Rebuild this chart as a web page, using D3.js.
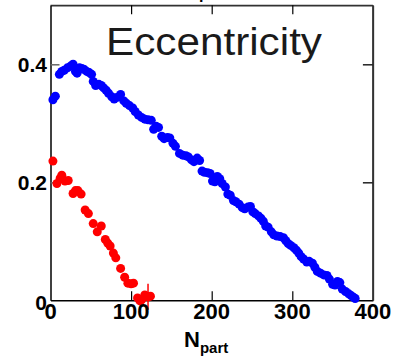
<!DOCTYPE html>
<html><head><meta charset="utf-8">
<script src="https://cdn.jsdelivr.net/npm/d3@7/dist/d3.min.js"></script>
<style>html,body{margin:0;padding:0;background:#fff;}svg{display:block;}</style>
</head><body>
<script>
const blueN = [3,6,11,14,17,21,25,28,31,33,36,39,42,45,48,51,53,56,60,63,66,69,72,76,79,83,87,91,94,98,102,105,109,113,117,121,125,128,131,134,138,141,145,148,152,155,160,164,168,171,175,178,182,185,188,191,195,198,201,204,207,210,213,217,220,223,227,230,234,238,241,245,248,251,254,258,261,264,267,270,274,277,281,285,289,292,295,298,302,305,308,311,314,318,321,325,328,331,335,339,343,346,350,353,356,359,362,366,370,373,376,378];
const blueE = [0.340,0.346,0.383,0.388,0.390,0.394,0.397,0.400,0.388,0.385,0.394,0.393,0.391,0.388,0.386,0.383,0.371,0.364,0.366,0.364,0.360,0.356,0.351,0.345,0.341,0.344,0.349,0.338,0.334,0.330,0.326,0.320,0.314,0.310,0.307,0.306,0.305,0.290,0.295,0.293,0.278,0.274,0.276,0.275,0.266,0.261,0.249,0.246,0.245,0.243,0.238,0.235,0.241,0.237,0.219,0.217,0.216,0.215,0.202,0.201,0.210,0.206,0.198,0.192,0.180,0.178,0.169,0.167,0.163,0.157,0.155,0.158,0.159,0.150,0.147,0.143,0.139,0.134,0.126,0.124,0.116,0.111,0.109,0.108,0.106,0.101,0.096,0.093,0.089,0.085,0.080,0.074,0.070,0.065,0.066,0.063,0.056,0.049,0.046,0.043,0.042,0.036,0.027,0.026,0.032,0.030,0.019,0.015,0.011,0.008,0.005,0.003];
const redN = [3,8,12,14,18,22,28,31,34,38,43,47,53,58,63,68,71,74,78,81,87,92,96,100,103,108,111,113,117,121,124];
const redE = [0.236,0.198,0.207,0.212,0.202,0.203,0.181,0.186,0.186,0.180,0.153,0.147,0.130,0.116,0.126,0.103,0.097,0.092,0.080,0.072,0.054,0.039,0.029,0.028,0.029,0.004,-0.001,0.001,0.009,0.006,0.007];
const redErr = [0,0,0,0,0,0,0,0,0,0,0,0,0,0,0,0,0,0,0,0,0,0,0,0,0,0,0,0,0,0.022,0];
const xTicks = [0,100,200,300,400];
const yTicks = [0,0.2,0.4];
const yTickLabels = ["0","0.2","0.4"];
const titleText = "Eccentricity";

const W = 395, H = 357;
const svg = d3.select("body").append("svg").attr("width", W).attr("height", H);
const x = d3.scaleLinear().domain([0,400]).range([50.5,372.9]);
const y = d3.scaleLinear().domain([0,0.5]).range([300.3,5.3]);

// cut-off top text fragment
svg.append("text").attr("x",199).attr("y",-1).attr("font-family","Liberation Sans, Arial, sans-serif")
  .attr("font-weight","bold").attr("font-size",16).attr("fill","#000").text("p");

// frame top/right
svg.append("line").attr("x1",x(0)).attr("x2",x(400)).attr("y1",y(0.5)).attr("y2",y(0.5)).attr("stroke","#333").attr("stroke-width",1.3);
svg.append("line").attr("x1",x(400)).attr("x2",x(400)).attr("y1",y(0.5)).attr("y2",y(0)).attr("stroke","#333").attr("stroke-width",1.5);

// axes via d3 with inward ticks
const gB = svg.append("g").attr("transform",`translate(0,${y(0)})`)
  .call(d3.axisBottom(x).tickValues([100,200,300]).tickSize(-9).tickFormat("").tickSizeOuter(0));
const gT = svg.append("g").attr("transform",`translate(0,${y(0.5)})`)
  .call(d3.axisTop(x).tickValues([100,200,300]).tickSize(-9).tickFormat("").tickSizeOuter(0));
const gL = svg.append("g").attr("transform",`translate(${x(0)},0)`)
  .call(d3.axisLeft(y).tickValues([0.2,0.4]).tickSize(-9).tickFormat("").tickSizeOuter(0));
const gR = svg.append("g").attr("transform",`translate(${x(400)},0)`)
  .call(d3.axisRight(y).tickValues([0.2,0.4]).tickSize(-10).tickFormat("").tickSizeOuter(0));
gB.select(".domain").attr("stroke","#000").attr("stroke-width",1.5);
gL.select(".domain").attr("stroke","#000").attr("stroke-width",1.5);
gT.select(".domain").attr("stroke","#333").attr("stroke-width",1.3);
gR.select(".domain").attr("stroke","#333").attr("stroke-width",1.5);
gB.selectAll(".tick line").attr("stroke","#000").attr("stroke-width",1.2);
gT.selectAll(".tick line").attr("stroke","#000").attr("stroke-width",1.2);
gL.selectAll(".tick line").attr("stroke","#666").attr("stroke-width",1.5);
gR.selectAll(".tick line").attr("stroke","#222").attr("stroke-width",1.5);

// title
svg.append("text").attr("x",106).attr("y",55).attr("font-family","Liberation Sans, Arial, sans-serif")
  .attr("font-size",39).attr("fill","#1a1a1a").attr("textLength",216).attr("lengthAdjust","spacingAndGlyphs").text(titleText);

// data
const blue = blueN.map((n,i)=>({n, e: blueE[i]}));
const red = redN.map((n,i)=>({n, e: redE[i], err: redErr[i]}));
svg.append("g").selectAll("line").data(red.filter(d=>d.err>0)).join("line")
  .attr("x1",d=>x(d.n)).attr("x2",d=>x(d.n)).attr("y1",d=>y(d.e+d.err)).attr("y2",d=>y(d.e-d.err))
  .attr("stroke","#ff0000").attr("stroke-width",1.5);
svg.append("g").selectAll("circle").data(blue).join("circle")
  .attr("cx",d=>x(d.n)).attr("cy",d=>y(d.e)).attr("r",4.5).attr("fill","#0000ff");
svg.append("g").selectAll("circle").data(red).join("circle")
  .attr("cx",d=>x(d.n)).attr("cy",d=>y(d.e)).attr("r",4.5).attr("fill","#ff0000");

// tick labels
const font = "Liberation Sans, Arial, sans-serif";
svg.append("g").selectAll("text").data(xTicks).join("text")
  .attr("x",d=>x(d)).attr("y",319).attr("text-anchor","middle")
  .attr("font-family",font).attr("font-weight","bold").attr("font-size",22).attr("fill","#000")
  .text(d=>String(d));
svg.append("g").selectAll("text").data(yTicks).join("text")
  .attr("x",47).attr("y",(d,i)=> i===0 ? 310 : y(d)+7.5).attr("text-anchor","end")
  .attr("font-family",font).attr("font-weight","bold").attr("font-size",21).attr("fill","#000")
  .text((d,i)=>yTickLabels[i]);

// axis label
const lab = svg.append("text").attr("x",184).attr("y",347).attr("font-family",font).attr("font-weight","bold").attr("fill","#000");
lab.append("tspan").attr("font-size",22).text("N");
lab.append("tspan").attr("font-size",15).attr("dy",6).text("part");
</script>
</body></html>
